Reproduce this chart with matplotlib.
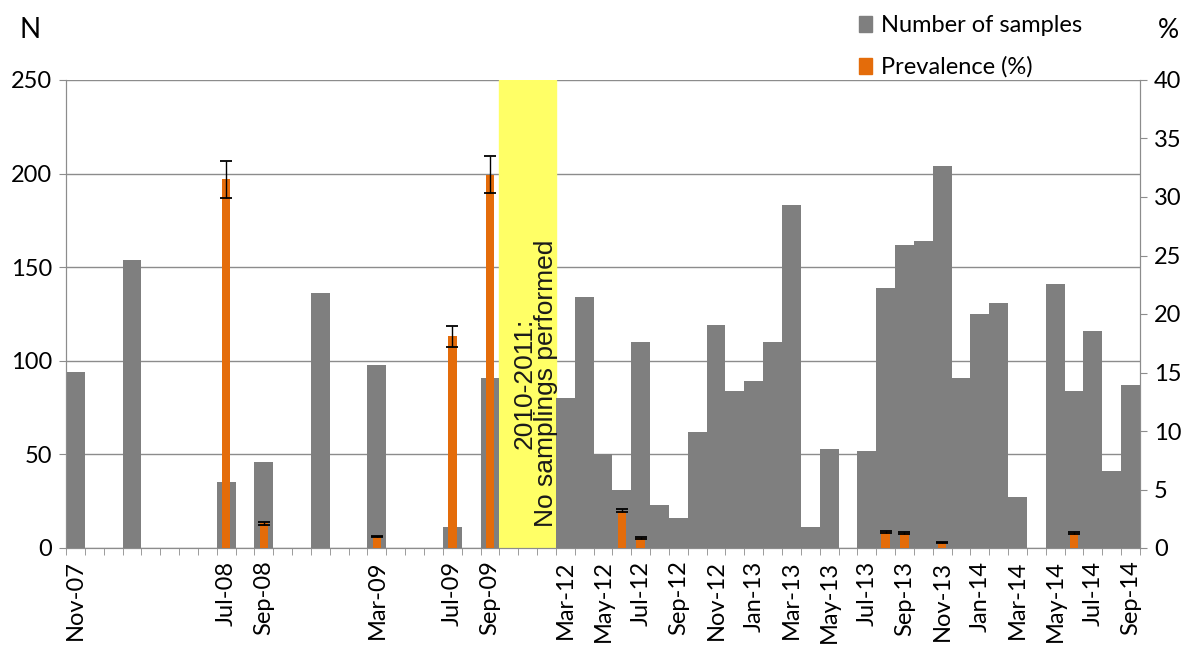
import numpy as np
import matplotlib
matplotlib.use("Agg")
from matplotlib import pyplot as plt
from matplotlib.patches import Patch

# one slot per month, Nov-07 .. Sep-14 with 2010-2011 squeezed into 3 slots
categories = ['Nov-07', '', '', '', '', '', '', '', 'Jul-08', '', 'Sep-08', '', '', '', '', '',
              'Mar-09', '', '', '', 'Jul-09', '', 'Sep-09', '', '', '',
              'Mar-12', '', 'May-12', '', 'Jul-12', '', 'Sep-12', '', 'Nov-12', '', 'Jan-13', '',
              'Mar-13', '', 'May-13', '', 'Jul-13', '', 'Sep-13', '', 'Nov-13', '', 'Jan-14', '',
              'Mar-14', '', 'May-14', '', 'Jul-14', '', 'Sep-14']

samples = [94, 0, 0, 154, 0, 0, 0, 0, 35, 0, 46, 0, 0, 136, 0, 0,
           98, 0, 0, 0, 11, 0, 91, 0, 0, 0,
           80, 134, 50, 31, 110, 23, 16, 62, 119, 84, 89, 110,
           183, 11, 53, 0, 52, 139, 162, 164, 204, 91, 125, 131,
           27, 0, 141, 84, 116, 41, 87]

nan = np.nan
prevalence = [nan] * 57
prevalence_err = [0.0] * 57
prev_points = {8: (31.5, 1.6), 10: (2.1, 0.1), 16: (0.95, 0.05), 20: (18.1, 0.9),
               22: (31.9, 1.6), 29: (3.2, 0.15), 30: (0.85, 0.05), 43: (1.35, 0.07),
               44: (1.3, 0.07), 46: (0.45, 0.03), 53: (1.3, 0.07)}
for k, (v, e) in prev_points.items():
    prevalence[k] = v
    prevalence_err[k] = e

gap_start, gap_end = 23, 25  # slots with no sampling

GRAY = '#7f7f7f'
ORANGE = '#e46c0a'
LINE = '#8c8c8c'
FONT = 'Lato'


def main():
    plt.rcParams['font.family'] = FONT
    fig = plt.figure(figsize=(11.94, 6.46), dpi=100)
    ax = fig.add_axes([66 / 1194, 1 - 548 / 646, (1140 - 66) / 1194, (548 - 80) / 646])
    ax2 = ax.twinx()

    x = np.arange(len(categories))

    ax.set_axisbelow(True)
    ax.yaxis.grid(True, color=LINE, linewidth=1)
    ax.axvspan(gap_start - 0.5, gap_end + 0.5, color='#ffff66', zorder=1)
    ax.bar(x, samples, width=1.0, color=GRAY, zorder=2)
    ax.text((gap_start + gap_end + 1) / 2 - 0.1, 11, '2010-2011:\nNo samplings performed',
            rotation=90, ha='center', va='bottom', fontsize=19, family='Liberation Sans',
            linespacing=0.85, color='#1a1a1a', zorder=3)

    ax2.bar(x, prevalence, width=0.45, color=ORANGE, zorder=3)
    ax2.errorbar(x, prevalence, yerr=prevalence_err, fmt='none', ecolor='black',
                 elinewidth=1, capsize=4, capthick=1.3, zorder=4)

    ax.set_xlim(-0.5, len(categories) - 0.5)
    ax.set_ylim(0, 250)
    ax.set_yticks(np.arange(0, 251, 50))
    ax2.set_ylim(0, 40)
    ax2.set_yticks(np.arange(0, 41, 5))

    ax.set_xticks(x)
    ax.set_xticklabels(categories, rotation=90, fontsize=17)
    ax.tick_params(axis='x', length=0, pad=9)
    ax.set_xticks(np.arange(-0.5, len(categories), 1), minor=True)
    ax.tick_params(axis='x', which='minor', length=5, color=LINE)
    ax.tick_params(axis='y', labelsize=17, length=5, color=LINE, pad=5)
    ax2.tick_params(axis='y', labelsize=17, length=5, color=LINE, pad=5)

    for a in (ax, ax2):
        for side in a.spines:
            a.spines[side].set_color(LINE)
        a.spines['top'].set_visible(False)

    fig.text(30 / 1194, 1 - 30 / 646, 'N', fontsize=20, ha='center', va='center')
    fig.text(1168 / 1194, 1 - 30 / 646, '%', fontsize=19, ha='center', va='center')

    handles = [Patch(color=GRAY), Patch(color=ORANGE)]
    fig.legend(handles, ['Number of samples', 'Prevalence (%)'], loc='upper left',
               bbox_to_anchor=(850 / 1194, 1 - 6 / 646), frameon=False, fontsize=17,
               handlelength=0.55, handleheight=0.7, handletextpad=0.35, labelspacing=0.85,
               borderaxespad=0)

    fig.savefig('out.png', dpi=100)


if __name__ == "__main__":
    main()
